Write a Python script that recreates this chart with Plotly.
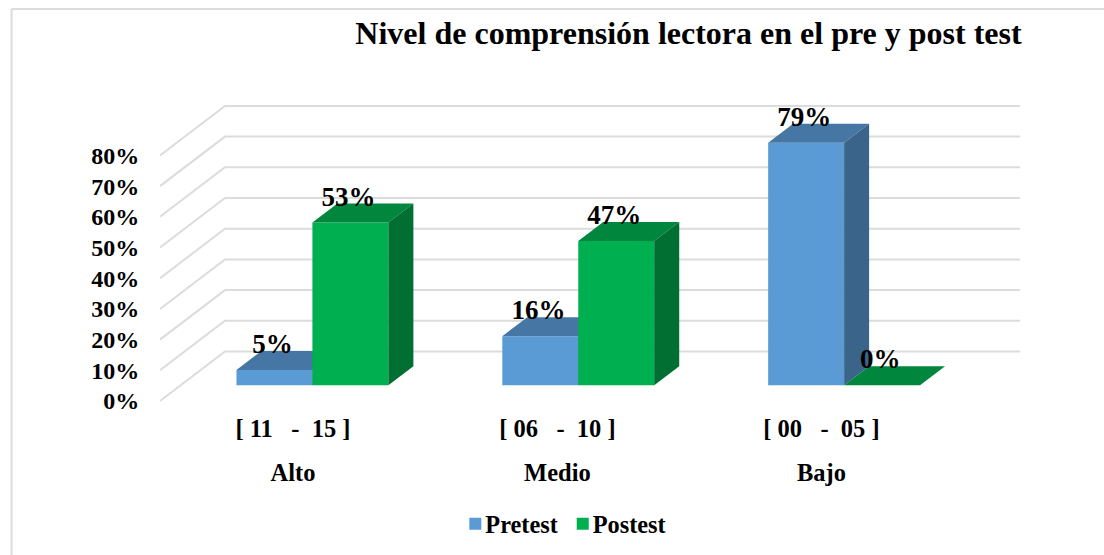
import plotly.graph_objects as go

# ---- data ----
ranges = ["[ 11\u00a0\u00a0\u00a0-\u00a0\u00a015 ]", "[ 06\u00a0\u00a0\u00a0-\u00a0\u00a010 ]", "[ 00\u00a0\u00a0\u00a0-\u00a0\u00a005 ]"]
levels = ["Alto", "Medio", "Bajo"]
pretest = [5, 16, 79]
postest = [53, 47, 0]
y_ticks = [0, 10, 20, 30, 40, 50, 60, 70, 80]
title = "Nivel de comprensión lectora en el pre y post test"

# ---- oblique projection, in data units ----
DX, DY = 0.2444, 16.12      # shift of the back wall relative to the front plane
ZX0, ZY0 = 0.30, 0.317      # depth of the bar fronts, horizontally and vertically
ZD = 0.385                  # depth of the bars
BAR_W = 0.2857
LABEL_GAP = 7.7
XMIN, XMAX = -0.5, 2.735
YMIN, YMAX = -0.98, 98.05
CAT_TICKS = [0, 0.995, 1.988]
FONT = "Liberation Serif"
GRID = "#dcdcdc"
W, H = 1104, 555
ML, MR, MT, MB = 159.5, 84, 100, 151


def bold(size, color="#000000"):
    return dict(family=FONT, size=size, color=color, weight=700)


fig = go.Figure()

# back wall and side wall grid lines
for v in y_ticks:
    fig.add_trace(go.Scatter(
        x=[XMIN, XMIN + DX, XMAX], y=[v, v + DY, v + DY], mode="lines",
        line=dict(color=GRID, width=2), showlegend=False, hoverinfo="skip",
        xaxis="x", yaxis="y", cliponaxis=False))


def add_series(name, values, sign, front, top, side, xa, ya):
    xs = [i + ZX0 * DX + sign * BAR_W / 2 for i in range(len(values))]
    base = ZY0 * DY
    fig.add_trace(go.Bar(
        name=name, x=xs, y=values, base=[base] * len(values), width=BAR_W,
        marker=dict(color=front, line=dict(width=0)), xaxis=xa, yaxis=ya,
        legendgroup=name))
    ddx = ZD * DX
    ddy = ZD * DY
    for x, v in zip(xs, values):
        xl, xr = x - BAR_W / 2, x + BAR_W / 2
        t = base + v
        fig.add_trace(go.Scatter(
            x=[xl, xr, xr + ddx, xl + ddx, xl], y=[t, t, t + ddy, t + ddy, t],
            mode="lines", fill="toself", fillcolor=top, line=dict(width=0),
            showlegend=False, hoverinfo="skip", xaxis=xa, yaxis=ya))
        fig.add_trace(go.Scatter(
            x=[xr, xr + ddx, xr + ddx, xr, xr],
            y=[base, base + ddy, t + ddy, t, base],
            mode="lines", fill="toself", fillcolor=side, line=dict(width=0),
            showlegend=False, hoverinfo="skip", xaxis=xa, yaxis=ya))
    return xs


xs_pre = add_series("Pretest", pretest, -1, "#5B9BD5", "#4676A3", "#3A6489", "x2", "y2")
xs_post = add_series("Postest", postest, 1, "#00B050", "#00863D", "#006F31", "x3", "y3")

# data labels on the top layer
for xs, values in ((xs_pre, pretest), (xs_post, postest)):
    fig.add_trace(go.Scatter(
        x=[x - 0.007 for x in xs], y=[ZY0 * DY + v + LABEL_GAP for v in values],
        text=[f"{v}%" for v in values], mode="text", textposition="middle center",
        textfont=bold(27), showlegend=False, hoverinfo="skip",
        xaxis="x3", yaxis="y3", cliponaxis=False))

axis_common = dict(range=[XMIN, XMAX], showgrid=False, zeroline=False, showline=False, fixedrange=True)
y_common = dict(range=[YMIN, YMAX], showgrid=False, zeroline=False, showline=False, fixedrange=True)

fig.update_layout(
    width=W, height=H,
    margin=dict(l=ML, r=MR, t=MT, b=MB, autoexpand=False),
    paper_bgcolor="#ffffff", plot_bgcolor="rgba(0,0,0,0)",
    barmode="overlay",
    title=dict(text=title, font=bold(32), x=688.5 / W, xanchor="center",
               y=1 - 33 / H, yanchor="middle", xref="container", yref="container"),
    xaxis=dict(**axis_common, tickmode="array", tickvals=CAT_TICKS, ticktext=ranges,
               ticks="outside", ticklen=3, tickcolor="rgba(0,0,0,0)", tickfont=bold(24.5)),
    xaxis2=dict(**axis_common, overlaying="x", anchor="y2", side="bottom",
                tickmode="array", tickvals=CAT_TICKS, ticktext=levels,
                ticks="outside", ticklen=47, tickcolor="rgba(0,0,0,0)", tickfont=bold(24.5)),
    xaxis3=dict(**axis_common, overlaying="x", anchor="y3", showticklabels=False),
    yaxis=dict(**y_common, tickmode="array", tickvals=y_ticks,
               ticktext=[f"{v}%" for v in y_ticks], ticks="outside", ticklen=15,
               tickcolor="rgba(0,0,0,0)", tickfont=bold(24)),
    yaxis2=dict(**y_common, overlaying="y", anchor="x2", showticklabels=False),
    yaxis3=dict(**y_common, overlaying="y", anchor="x3", showticklabels=False),
    legend=dict(orientation="h", x=(455 - ML) / (W - ML - MR), xanchor="left",
                y=(H - MB - 524) / (H - MT - MB), yanchor="middle", indentation=-10,
                font=bold(24.3), bgcolor="rgba(0,0,0,0)", traceorder="normal"),
    shapes=[
        dict(type="line", xref="paper", yref="paper", layer="below",
             x0=(11 - ML) / (W - ML - MR), x1=(11 - ML) / (W - ML - MR),
             y0=(H - MB - 555) / (H - MT - MB), y1=(H - MB - 9) / (H - MT - MB),
             line=dict(color=GRID, width=2)),
        dict(type="line", xref="paper", yref="paper", layer="below",
             x0=(11 - ML) / (W - ML - MR), x1=(W - ML) / (W - ML - MR),
             y0=(H - MB - 9) / (H - MT - MB), y1=(H - MB - 9) / (H - MT - MB),
             line=dict(color=GRID, width=2)),
    ],
)

post = (
    "document.body.style.margin='0';"
    "document.documentElement.style.overflow='hidden';"
    "document.querySelectorAll('.legend .legendsymbols').forEach("
    "function(e){e.setAttribute('transform','translate(10,0)');});"
)
fig.write_html("out.html", config=dict(displayModeBar=False), post_script=post)
